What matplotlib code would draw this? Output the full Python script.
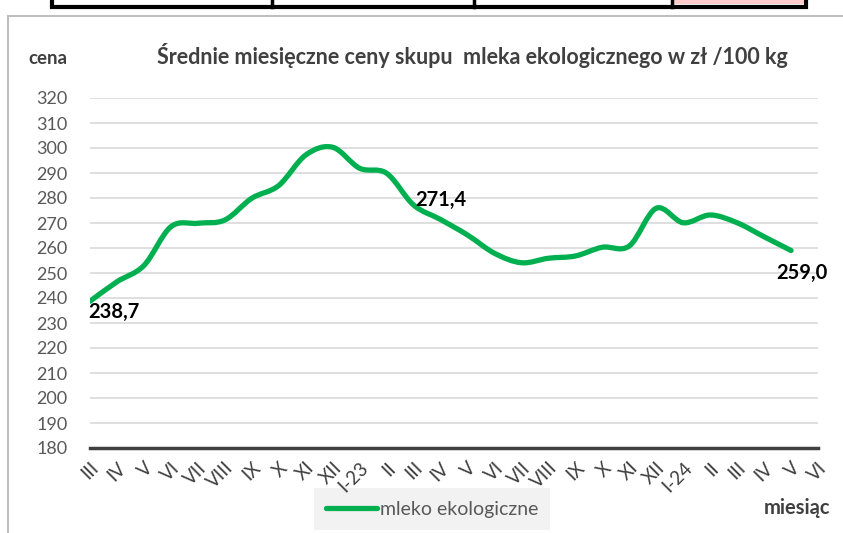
import numpy as np
import matplotlib
matplotlib.use("Agg")
import matplotlib.pyplot as plt
from matplotlib.path import Path
from matplotlib.patches import PathPatch, Rectangle
from matplotlib.lines import Line2D

plt.rcParams['font.family'] = ['Lato', 'DejaVu Sans']

# months from III-2022 to VI-2024
months = ['III', 'IV', 'V', 'VI', 'VII', 'VIII', 'IX', 'X', 'XI', 'XII', 'I-23',
          'II', 'III', 'IV', 'V', 'VI', 'VII', 'VIII', 'IX', 'X', 'XI', 'XII', 'I-24',
          'II', 'III', 'IV', 'V', 'VI']
# prices (zl / 100 kg), last month has no data yet
prices = [238.7, 246.5, 253.0, 268.5, 269.9, 271.2, 279.9, 285.0, 297.2, 300.3,
          291.9, 289.9, 277.2, 271.4, 265.2, 257.9, 254.1, 255.9, 256.8, 260.3,
          260.8, 275.9, 270.1, 273.2, 270.1, 264.5, 259.0]
yticks = list(range(180, 330, 10))
labelled = [0, 13, 26]

green = '#00B050'
grey_txt = '#595959'

fig = plt.figure(figsize=(8.43, 5.33), dpi=100)

# bits of the table above the chart (screenshot) + frame, drawn underneath
top = fig.add_axes([0, 0, 1, 1], zorder=-5)
top.set_xlim(0, 843)
top.set_ylim(533, 0)
top.axis('off')
top.add_patch(Rectangle((52, -5), 754, 12, fc='white', ec='black', lw=3))
top.add_patch(Rectangle((674, -5), 130, 9, fc='#FFCCCC', ec='none'))
for xd in [272, 474, 672]:
    top.plot([xd, xd], [0, 7], color='black', lw=2.5)
top.plot([8, 843], [16, 16], color='#BFBFBF', lw=1.5)
top.plot([8, 8], [16, 533], color='#BFBFBF', lw=1.5)

ax = fig.add_axes([90 / 843, 1 - 448 / 533, 728 / 843, 350 / 533])
ax.patch.set_alpha(0)
ax.set_xlim(0, len(months) - 1)
ax.set_ylim(180, 320)
for s in ax.spines.values():
    s.set_visible(False)
ax.set_yticks(yticks)
ax.set_yticklabels([str(v) for v in yticks])
ax.tick_params(axis='y', length=0, pad=16, labelsize=13, labelcolor=grey_txt)
ax.set_xticks(range(len(months)))
ax.set_xticklabels(months, rotation=45, ha='right', va='top', rotation_mode='anchor')
ax.tick_params(axis='x', length=0, pad=8, labelsize=13.5, labelcolor='#404040')
for v in yticks[1:]:
    ax.axhline(v, color='#D9D9D9', lw=1.2, zorder=1)
ax.axhline(180, color='#404040', lw=2.5, zorder=2, clip_on=False)

# smoothed line (Excel style bezier through the points)
xs = np.arange(len(prices), dtype=float)
ys = np.array(prices)
verts = [(xs[0], ys[0])]
codes = [Path.MOVETO]
n = len(xs)
for i in range(n - 1):
    p0 = np.array([xs[max(i - 1, 0)], ys[max(i - 1, 0)]])
    p1 = np.array([xs[i], ys[i]])
    p2 = np.array([xs[i + 1], ys[i + 1]])
    p3 = np.array([xs[min(i + 2, n - 1)], ys[min(i + 2, n - 1)]])
    c1 = p1 + (p2 - p0) / 6
    c2 = p2 - (p3 - p1) / 6
    verts += [tuple(c1), tuple(c2), tuple(p2)]
    codes += [Path.CURVE4] * 3
ax.add_patch(PathPatch(Path(verts, codes), fill=False, ec=green, lw=3.8,
                       capstyle='round', joinstyle='round', zorder=3))

offsets = {0: (17, -8), 13: (0, 14), 26: (8, -16)}
for i in labelled:
    ax.annotate(f'{prices[i]:.1f}'.replace('.', ','), (i, prices[i]),
                xytext=offsets[i], textcoords='offset points',
                ha='center', va='center', fontsize=14.5, fontweight='bold',
                color='black', zorder=4)

fig.text(472 / 843, 1 - 55 / 533,
         'Średnie miesięczne ceny skupu  mleka ekologicznego w zł /100 kg',
         ha='center', va='center', fontsize=15.5, fontweight='bold', color='#404040')
fig.text(48 / 843, 1 - 58 / 533, 'cena', ha='center', va='center',
         fontsize=13.5, fontweight='bold', color='#404040')
fig.text(797 / 843, 1 - 508 / 533, 'miesiąc', ha='center', va='center',
         fontsize=14.5, fontweight='bold', color='#404040')

# legend sits under the tick labels, as in the original
handle = Line2D([], [], color=green, lw=3.8, solid_capstyle='round')
leg = top.legend(handles=[handle], labels=['mleko ekologiczne'],
                 loc='center', bbox_to_anchor=(432 / 843, 1 - 509 / 533),
                 bbox_transform=fig.transFigure,
                 frameon=True, fancybox=False, facecolor='#F2F2F2',
                 edgecolor='none', framealpha=1, fontsize=14,
                 handlelength=2.6, handletextpad=0.15, borderpad=0.62,
                 borderaxespad=0, labelcolor=grey_txt)

fig.savefig('out.png', dpi=100)
